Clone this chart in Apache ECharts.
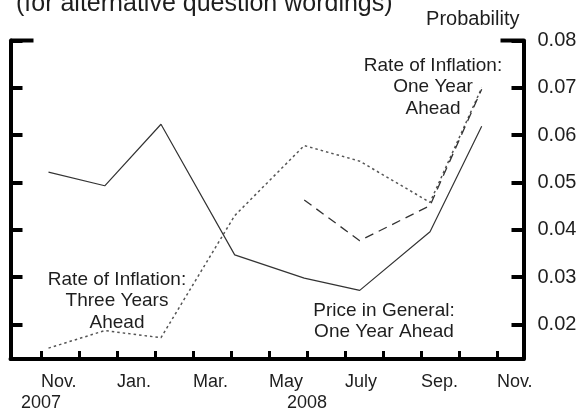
<!DOCTYPE html>
<html>
<head>
<meta charset="utf-8">
<script src="https://cdn.jsdelivr.net/npm/echarts@6/dist/echarts.min.js"></script>
<style>
  html, body { margin: 0; padding: 0; background: #fff; }
  #chart { width: 582px; height: 412px; }
</style>
</head>
<body>
<div id="chart"></div>
<script>
// survey dates, in months counted from Nov. 2007
const surveyMonths = [0.2, 1.68, 3.16, 5.1, 6.93, 8.39, 10.24, 11.6]
const priceGeneralOneYear = [0.0522, 0.0493, 0.0623, 0.0347, 0.0298, 0.0272, 0.0396, 0.0619]
const inflationThreeYears = [0.0150, 0.0187, 0.0172, 0.0430, 0.0578, 0.0545, 0.0458, 0.0700]
const inflationOneYear = [null, null, null, null, 0.0463, 0.0377, 0.0451, 0.0697]

const monthTicks = [0, 1, 2, 3, 4, 5, 6, 7, 8, 9, 10, 11, 12]
const labelMonths = [0, 2, 4, 6, 8, 10, 12]
const monthLabels = ['Nov.', 'Jan.', 'Mar.', 'May', 'July', 'Sep.', 'Nov.']
const yearMonths = [0, 7]
const yearLabels = ['2007', '2008']
const yTicks = [0.02, 0.03, 0.04, 0.05, 0.06, 0.07, 0.08]

const pairs = (ys) => surveyMonths.map((m, i) => [m, ys[i]])

const font = 'Arial, "Liberation Sans", sans-serif'
const ink = '#1e1e1e'
const xMin = -0.8
const xMax = 12.7
const yMin = 0.0127
const yMax = 0.08

const chart = echarts.init(document.getElementById('chart'))

const option = {
  animation: false,
  backgroundColor: '#fff',
  title: {
    text: '(for alternative question wordings)',
    left: 11,
    top: -13,
    textStyle: { fontFamily: font, fontSize: 25, fontWeight: 'normal', color: ink }
  },
  grid: { left: 10.5, right: 58.5, top: 40.5, bottom: 51 },
  xAxis: [
    {
      type: 'value',
      min: xMin,
      max: xMax,
      splitLine: { show: false },
      axisLine: { onZero: false, lineStyle: { color: '#000', width: 4 } },
      axisTick: { inside: true, length: 8, customValues: monthTicks, lineStyle: { color: '#000', width: 3 } },
      axisLabel: {
        customValues: labelMonths,
        align: 'left',
        margin: 14,
        fontFamily: font,
        fontSize: 18,
        color: ink,
        formatter: (v) => monthLabels[labelMonths.indexOf(Math.round(v))]
      }
    },
    {
      type: 'value',
      min: xMin,
      max: xMax,
      position: 'bottom',
      splitLine: { show: false },
      axisLine: { show: false },
      axisTick: { show: false },
      axisLabel: {
        customValues: yearMonths,
        align: 'center',
        margin: 35,
        fontFamily: font,
        fontSize: 18,
        color: ink,
        formatter: (v) => yearLabels[yearMonths.indexOf(Math.round(v))]
      }
    }
  ],
  yAxis: [
    {
      type: 'value',
      position: 'left',
      min: yMin,
      max: yMax,
      splitLine: { show: false },
      axisLine: { show: true, onZero: false, lineStyle: { color: '#000', width: 4 } },
      axisTick: { inside: true, length: 12, customValues: yTicks, lineStyle: { color: '#000', width: 4 } },
      axisLabel: { show: false }
    },
    {
      type: 'value',
      position: 'right',
      min: yMin,
      max: yMax,
      name: 'Probability',
      nameLocation: 'end',
      nameGap: 21,
      nameTextStyle: { fontFamily: font, fontSize: 20, color: ink, align: 'right', verticalAlign: 'middle', padding: [0, 4, 0, 0] },
      splitLine: { show: false },
      axisLine: { show: true, onZero: false, lineStyle: { color: '#000', width: 4 } },
      axisTick: { inside: true, length: 12, customValues: yTicks, lineStyle: { color: '#000', width: 4 } },
      axisLabel: {
        customValues: yTicks,
        margin: 14,
        fontFamily: font,
        fontSize: 20,
        color: ink,
        formatter: (v) => v.toFixed(2)
      }
    }
  ],
  graphic: [
    {
      id: 'noteOneYear',
      type: 'text',
      x: 433,
      y: 55,
      style: {
        text: 'Rate of Inflation:\nOne Year\nAhead',
        align: 'center',
        lineHeight: 21.5,
        font: '19px ' + font,
        fill: ink
      }
    },
    {
      id: 'noteThreeYears',
      type: 'text',
      x: 117,
      y: 269,
      style: {
        text: 'Rate of Inflation:\nThree Years\nAhead',
        align: 'center',
        lineHeight: 21.5,
        font: '19px ' + font,
        fill: ink
      }
    },
    {
      id: 'notePrice',
      type: 'text',
      x: 384,
      y: 300,
      style: {
        text: 'Price in General:\nOne Year Ahead',
        align: 'center',
        lineHeight: 21.5,
        font: '19px ' + font,
        fill: ink
      }
    }
  ],
  series: [
    {
      name: 'Price in General: One Year Ahead',
      type: 'line',
      data: pairs(priceGeneralOneYear),
      symbol: 'none',
      lineStyle: { color: '#333', width: 1.2, type: 'solid' }
    },
    {
      name: 'Rate of Inflation: Three Years Ahead',
      type: 'line',
      data: pairs(inflationThreeYears),
      symbol: 'none',
      lineStyle: { color: '#555', width: 1.5, type: [2.5, 3] }
    },
    {
      name: 'Rate of Inflation: One Year Ahead',
      type: 'line',
      data: pairs(inflationOneYear),
      symbol: 'none',
      connectNulls: false,
      lineStyle: { color: '#333', width: 1.3, type: [9, 6] }
    }
  ]
}

chart.setOption(option)

// longer ticks at the two top corners of the frame
const topLeft = chart.convertToPixel({ xAxisIndex: 0, yAxisIndex: 0 }, [xMin, yMax])
const topRight = chart.convertToPixel({ xAxisIndex: 0, yAxisIndex: 0 }, [xMax, yMax])
chart.setOption({
  graphic: [
    { id: 'cornerLeft', type: 'line', shape: { x1: topLeft[0], y1: topLeft[1], x2: topLeft[0] + 23, y2: topLeft[1] }, style: { stroke: '#000', lineWidth: 4 } },
    { id: 'cornerRight', type: 'line', shape: { x1: topRight[0] - 23, y1: topRight[1], x2: topRight[0], y2: topRight[1] }, style: { stroke: '#000', lineWidth: 4 } }
  ]
})
</script>
</body>
</html>
